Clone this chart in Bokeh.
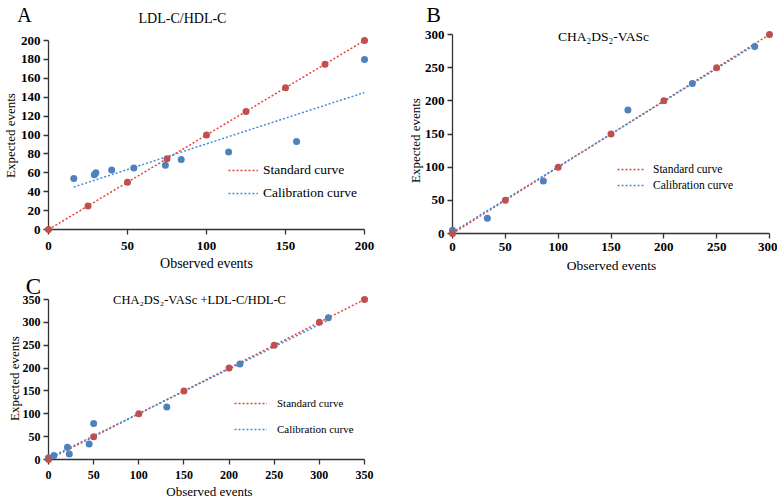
import math
from bokeh.plotting import figure
from bokeh.layouts import row, column
from bokeh.models import Legend, LegendItem, FixedTicker, Range1d
from bokeh.core.properties import value
from bokeh.embed import file_html
from bokeh.resources import INLINE

# ---------------- data ----------------
# Panel A : LDL-C/HDL-C
std_a = [0, 25, 50, 75, 100, 125, 150, 175, 200]
obs_a = [16, 29, 30, 40, 54, 74, 84, 114, 157, 200]
exp_a = [54, 58, 60, 63, 65, 68, 74, 82, 93, 180]
cal_a_x = [16, 200]
cal_a_y = [45, 145]
xticks_a = [0, 50, 100, 150, 200]
yticks_a = [0, 20, 40, 60, 80, 100, 120, 140, 160, 180, 200]

# Panel B : CHA2DS2-VASc
std_b = [0, 50, 100, 150, 200, 250, 300]
obs_b = [0, 33, 86, 166, 227, 286]
exp_b = [5, 23, 79, 186, 226, 282]
cal_b_x = [0, 286]
cal_b_y = [2, 284]
xticks_b = [0, 50, 100, 150, 200, 250, 300]
yticks_b = [0, 50, 100, 150, 200, 250, 300]

# Panel C : CHA2DS2-VASc + LDL-C/HDL-C
std_c = [0, 50, 100, 150, 200, 250, 300, 350]
obs_c = [0, 6, 21, 23, 45, 50, 131, 212, 310]
exp_c = [4, 9, 27, 12, 34, 79, 115, 209, 310]
cal_c_x = [0, 310]
cal_c_y = [3, 305]
xticks_c = [0, 50, 100, 150, 200, 250, 300, 350]
yticks_c = [0, 50, 100, 150, 200, 250, 300, 350]

RED_PT = "#C0504D"
BLUE_PT = "#4F81BD"
RED_LN = "#E0453C"
BLUE_LN = "#3F8FDB"
SERIF = "Liberation Serif"


def make_panel(W, H, mb, xmax, ymax, xticks, yticks, std, obs, exp, calx, caly,
               tick_size, xstand, frame_abs, texts, legend_cfg):
    left, right, top, bottom = mb
    p = figure(width=W, height=H, x_range=Range1d(0, xmax), y_range=Range1d(0, ymax),
               output_backend="svg", toolbar_location=None,
               min_border_left=left, min_border_right=right,
               min_border_top=top, min_border_bottom=bottom)
    p.outline_line_color = None
    p.grid.visible = False
    p.background_fill_color = "white"
    p.border_fill_color = "white"
    for ax, tks in ((p.xaxis, xticks), (p.yaxis, yticks)):
        ax.ticker = FixedTicker(ticks=tks)
        ax.minor_tick_line_color = None
        ax.major_tick_in = 0
        ax.major_tick_out = 5
        ax.axis_line_color = "#333333"
        ax.axis_line_width = 1.3
        ax.major_tick_line_color = "#333333"
        ax.major_tick_line_width = 1.3
        ax.major_label_text_font = SERIF
        ax.major_label_text_font_style = "bold"
        ax.major_label_text_font_size = tick_size
        ax.major_label_text_color = "black"
    p.xaxis.major_label_standoff = xstand
    p.yaxis.major_label_standoff = 3

    red_line = p.line(std, std, line_color=RED_LN, line_dash="2 2", line_width=1.5)
    blue_line = p.line(calx, caly, line_color=BLUE_LN, line_dash="2 2", line_width=1.5)
    p.scatter(obs, exp, size=7, fill_color=BLUE_PT, line_color=None, level="overlay")
    p.scatter(std, std, size=7, fill_color=RED_PT, line_color=None, level="overlay")

    # free texts: anchored at the frame's bottom-left data corner, shifted in pixels
    fl, fb = frame_abs
    for (txt, ax_, ay_, size, angle, align, base) in texts:
        p.text(x=[0], y=[0], text=[txt], x_offset=ax_ - fl, y_offset=ay_ - fb,
               angle=angle, text_font=value(SERIF), text_font_size=value(size),
               text_color="black", text_align=align, text_baseline=base,
               level="overlay")

    lx, lbottom, gw, rowh, stand, spc, fsize = legend_cfg
    leg = Legend(items=[LegendItem(label="Standard curve", renderers=[red_line]),
                        LegendItem(label="Calibration curve", renderers=[blue_line])],
                 location=(lx - fl, fb - lbottom), orientation="vertical",
                 glyph_width=gw, glyph_height=rowh, label_height=rowh, label_standoff=stand,
                 spacing=spc, padding=0, margin=0,
                 label_text_font=SERIF, label_text_font_size=fsize,
                 label_text_color="black",
                 border_line_alpha=0, background_fill_alpha=0)
    p.add_layout(leg)
    return p


R90 = math.pi / 2

# Panel A: canvas abs (0,0) 390x272 ; frame abs 48..364 x 40..229
pA = make_panel(390, 272, (48, 26, 40, 43), 200, 200, xticks_a, yticks_a,
                std_a, obs_a, exp_a, cal_a_x, cal_a_y, "13px", 7, (48, 229),
                [("A", 24, 14, "20px", 0, "center", "alphabetic"),
                 ("LDL-C/HDL-C", 182, 18, "14px", 0, "center", "alphabetic"),
                 ("Expected events", 10, 135, "13px", R90, "center", "middle"),
                 ("Observed events", 206, 263, "14px", 0, "center", "alphabetic")],
                (228, 201, 30, 16, 5, 7, "13.5px"))

# Panel C: canvas abs (0,272) 390x226 ; frame abs 44..366 x 299..459
pC = make_panel(390, 226, (44, 24, 27, 39), 350, 350, xticks_c, yticks_c,
                std_c, obs_c, exp_c, cal_c_x, cal_c_y, "12px", 6, (44, 459),
                [("C", 29, 286, "23px", 0, "center", "alphabetic"),
                 ("CHA\u2082DS\u2082-VASc +LDL-C/HDL-C", 195, 299, "12.5px", 0, "center", "alphabetic"),
                 ("Expected events", 10, 378, "13px", R90, "center", "middle"),
                 ("Observed events", 205, 491, "13px", 0, "center", "alphabetic")],
                (230, 437, 33, 16, 10, 10, "11px"))

# Panel B: canvas abs (390,0) 387x275 ; frame abs 452..769 x 34..233
pB = make_panel(387, 275, (62, 8, 34, 42), 300, 300, xticks_b, yticks_b,
                std_b, obs_b, exp_b, cal_b_x, cal_b_y, "13px", 4, (452, 233),
                [("B", 433, 14, "22px", 0, "center", "alphabetic"),
                 ("CHA\u2082DS\u2082-VASc", 603, 36, "13.5px", 0, "center", "alphabetic"),
                 ("Expected events", 415, 140, "13px", R90, "center", "middle"),
                 ("Observed events", 611, 265, "13.5px", 0, "center", "alphabetic")],
                (617, 193, 28, 16, 8, 0, "11.5px"))

layout = row(column(pA, pC), pB)
open("out.html", "w").write(file_html(layout, INLINE))
